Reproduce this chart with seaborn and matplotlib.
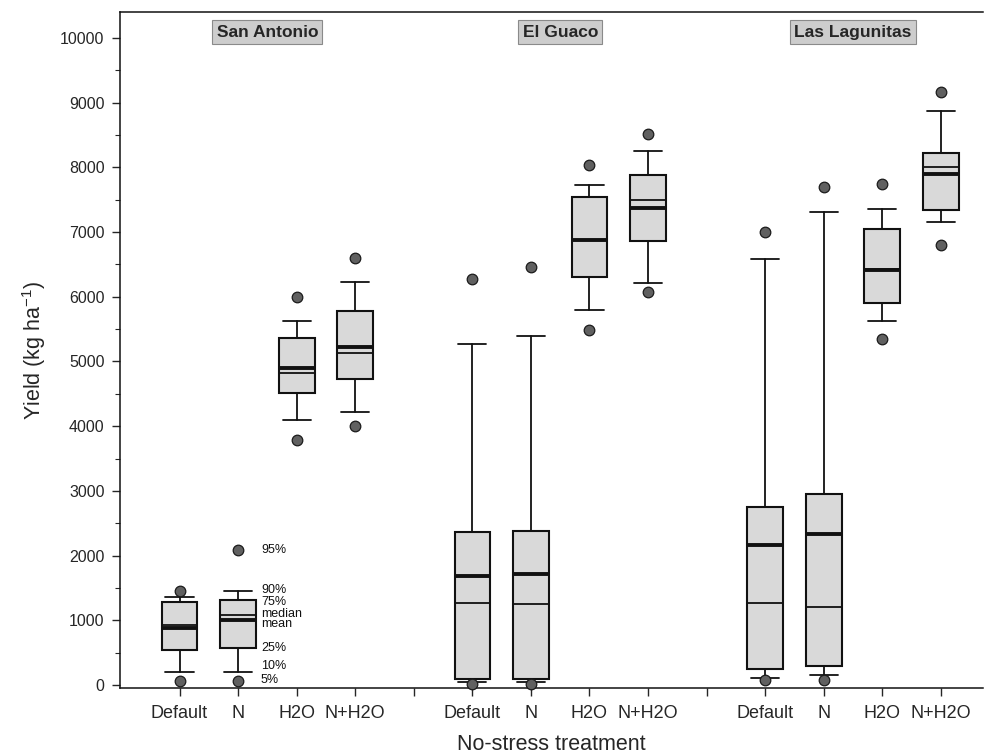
import pandas as pd
import matplotlib.pyplot as plt
import seaborn as sns

sites = ['San Antonio', 'El Guaco', 'Las Lagunitas']
treatments = ['Default', 'N', 'H2O', 'N+H2O']

# yield percentiles (kg/ha), one entry per box: site by site, treatments in order
p5 = [62, 62, 3790, 4000, 15, 15, 5480, 6070, 70, 80, 5350, 6800]
p10 = [206, 206, 4090, 4220, 40, 40, 5800, 6210, 110, 150, 5620, 7160]
p25 = [541, 577, 4520, 4730, 90, 90, 6300, 6860, 240, 300, 5900, 7340]
median = [927, 1082, 4820, 5130, 1270, 1250, 6880, 7490, 1260, 1200, 6430, 8010]
mean = [876, 1005, 4900, 5220, 1690, 1720, 6870, 7370, 2160, 2340, 6420, 7900]
p75 = [1287, 1314, 5360, 5780, 2360, 2380, 7540, 7880, 2750, 2950, 7040, 8220]
p90 = [1365, 1453, 5620, 6230, 5270, 5390, 7720, 8250, 6590, 7310, 7360, 8870]
p95 = [1453, 2087, 6000, 6600, 6280, 6460, 8030, 8520, 7000, 7700, 7740, 9170]

sns.set_theme(style='ticks')
plt.rcParams['font.family'] = ['Liberation Sans', 'DejaVu Sans']
plt.rcParams['mathtext.default'] = 'regular'

df = pd.DataFrame({
    'site': [s for s in sites for _ in treatments],
    'treatment': treatments * len(sites),
    'p5': p5, 'p10': p10, 'p25': p25, 'median': median,
    'mean': mean, 'p75': p75, 'p90': p90, 'p95': p95,
})
df['pos'] = [sites.index(s) * 5 + treatments.index(t) for s, t in zip(df['site'], df['treatment'])]

fig, ax = plt.subplots(figsize=(9.9, 7.56), dpi=100)
fig.subplots_adjust(left=0.121, right=0.993, bottom=0.09, top=0.984)

# boxes: 25-75% box, 10/90% whiskers, thin median, thick mean
stats = [dict(whislo=r.p10, q1=r.p25, med=r.median, mean=r.mean, q3=r.p75,
              whishi=r.p90, fliers=[]) for r in df.itertuples()]
ax.bxp(stats, positions=df['pos'].tolist(), widths=0.61, capwidths=0.48,
       showmeans=True, meanline=True, patch_artist=True, manage_ticks=False,
       boxprops=dict(facecolor='#d9d9d9', edgecolor='#111111', linewidth=1.5),
       medianprops=dict(color='#111111', linewidth=1.3),
       meanprops=dict(color='#111111', linewidth=2.8, linestyle='-'),
       whiskerprops=dict(color='#111111', linewidth=1.3),
       capprops=dict(color='#111111', linewidth=1.3))

# 5% and 95% dots
dots = df.melt(id_vars=['pos'], value_vars=['p5', 'p95'])
sns.scatterplot(data=dots, x='pos', y='value', color='#606060', edgecolor='#1a1a1a',
                s=58, linewidth=0.9, ax=ax, legend=False, zorder=4, clip_on=False)

# key labels next to the San Antonio N box
n = df.iloc[1]
key = [('95%', n['p95']), ('90%', n['p90'] + 20), ('75%', n['p75'] - 35),
       ('median', n['median'] + 20), ('mean', n['mean'] - 70), ('25%', n['p25']),
       ('10%', n['p10'] + 80), ('5%', n['p5'] + 10)]
for lab, yv in key:
    ax.text(1.39, yv, lab, ha='left', va='center', fontsize=9, color='#111111')

# site titles
for i, s in enumerate(sites):
    ax.text(i * 5 + 1.5, 10090, s, ha='center', va='center', fontsize=12.5,
            fontweight='bold',
            bbox=dict(boxstyle='square,pad=0.25', fc='#cdcdcd', ec='#8a8a8a', lw=0.8))

ax.set_xlim(-1.02, 13.72)
ax.set_ylim(-46, 10400)
ticks = list(range(14))
ax.set_xticks(ticks)
ax.set_xticklabels([treatments[t % 5] if t % 5 < 4 else '' for t in ticks], fontsize=13)
ax.set_yticks(range(0, 10001, 1000))
ax.set_yticks(range(500, 10001, 1000), minor=True)
ax.tick_params(axis='y', labelsize=11.5, length=6, width=1, direction='out', pad=5)
ax.tick_params(axis='y', which='minor', length=3.5, width=0.8, left=True)
ax.tick_params(axis='x', length=6, width=1, direction='out', pad=6)

ax.set_xlabel('No-stress treatment', fontsize=15.5, labelpad=9)
ax.set_ylabel('Yield (kg ha$^{-1}$)', fontsize=15.5, labelpad=9)

for side in ['left', 'bottom', 'top']:
    ax.spines[side].set_color('#111111')
    ax.spines[side].set_linewidth(1.1)
ax.spines['right'].set_visible(False)

plt.savefig('out.png', dpi=100)
